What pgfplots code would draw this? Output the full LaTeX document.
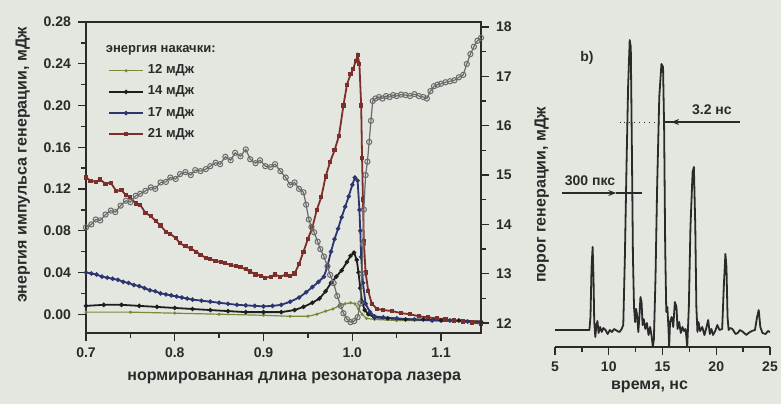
\documentclass[border=0pt]{standalone}
\usepackage{pgfplots}
\pgfplotsset{compat=1.18}
\usepackage{fontspec}
\setmainfont{Liberation Sans}
\usetikzlibrary{arrows.meta}
\definecolor{bg}{HTML}{E3E7E0}
\definecolor{ink}{HTML}{2A2A2A}
\definecolor{cgreen}{HTML}{7A8A3A}
\definecolor{cblack}{HTML}{1E1E1E}
\definecolor{cblue}{HTML}{2B3570}
\definecolor{cred}{HTML}{7B2E2A}
\definecolor{cgray}{HTML}{6A6A6A}
\pgfplotsset{
 common/.style={scale only axis,
  axis line style={ink, line width=0.9pt},
  tick style={ink, line width=0.7pt},
  major tick length=4pt, minor tick length=2.5pt, tick align=outside,
  ticklabel style={font=\fontsize{7}{8}\selectfont\bfseries, text=ink},
  label style={font=\fontsize{8}{9}\selectfont\bfseries, text=ink},
  /pgf/number format/assume math mode=true},
}
\begin{document}
\begin{tikzpicture}
\fill[bg] (0,0) rectangle (390.5pt,202pt);
\useasboundingbox (0,0) rectangle (390.5pt,202pt);

% ---------- left panel: pulse energy ----------
\begin{axis}[common, at={(43pt,35.5pt)}, anchor=south west, width=197.5pt, height=155.5pt,
 xmin=0.7, xmax=1.145, ymin=-0.018, ymax=0.28,
 xtick={0.7,0.8,0.9,1.0,1.1}, ytick={0,0.04,0.08,0.12,0.16,0.2,0.24,0.28}, minor tick num=1,
 xtick pos=bottom, ytick pos=left,
 xticklabel style={/pgf/number format/.cd, fixed, fixed zerofill, precision=1},
 yticklabel style={/pgf/number format/.cd, fixed, fixed zerofill, precision=2},
 xlabel={нормированная длина резонатора лазера},
 ylabel={энергия импульса генерации, мДж},
 xlabel style={at={(axis description cs:0.527,-0.145)}, anchor=center},
 ylabel style={at={(axis description cs:-0.16,0.54)}, anchor=center},
 legend style={draw=none, fill=none, at={(axis description cs:0.05,0.945)}, anchor=north west,
   font=\fontsize{6.5}{7.5}\selectfont\bfseries, text=ink, row sep=0.6pt, inner sep=1pt},
 legend cell align=left,
 legend image code/.code={\draw[mark repeat=2,mark phase=2,#1] plot coordinates {(0pt,0pt) (8.5pt,0pt) (17pt,0pt)};},
]
\addlegendimage{empty legend}
\addlegendentry{\hspace{-21pt}энергия накачки:}
\addplot[cgreen, line width=0.6pt, mark=*, mark size=0.45pt] coordinates {
(0.700,0.002) (0.75,0.002) (0.80,0.001) (0.85,0.000) (0.90,-0.001) (0.93,-0.002) (0.950,-0.002)
(0.960,0.000) (0.970,0.003) (0.978,0.005) (0.985,0.008) (0.992,0.010) (0.998,0.011) (1.003,0.010)
(1.007,0.005) (1.011,0.000) (1.016,-0.004) (1.025,-0.005) (1.05,-0.006) (1.10,-0.006) (1.145,-0.007)};
\addlegendentry{12 мДж}
\addplot[cblack, line width=0.9pt, mark=*, mark size=0.6pt] coordinates {
(0.700,0.008) (0.72,0.009) (0.74,0.009) (0.76,0.008) (0.78,0.007) (0.80,0.006) (0.82,0.005)
(0.84,0.004) (0.86,0.003) (0.88,0.002) (0.90,0.002) (0.92,0.002) (0.935,0.004) (0.945,0.007)
(0.955,0.011) (0.963,0.015) (0.970,0.022) (0.976,0.030) (0.982,0.036) (0.988,0.042) (0.994,0.050)
(0.998,0.056) (1.002,0.059) (1.005,0.052) (1.007,0.040) (1.009,0.025) (1.011,0.012) (1.014,0.004)
(1.018,0.000) (1.025,-0.003) (1.04,-0.004) (1.06,-0.005) (1.08,-0.005) (1.10,-0.006) (1.12,-0.006) (1.145,-0.007)};
\addlegendentry{14 мДж}
\addplot[cblue, line width=0.9pt, mark=*, mark size=0.6pt] coordinates {
(0.700,0.040) (0.706,0.039) (0.712,0.038) (0.718,0.036) (0.724,0.035) (0.730,0.034) (0.736,0.033)
(0.742,0.031) (0.748,0.030) (0.754,0.028) (0.760,0.027) (0.766,0.025) (0.772,0.023) (0.778,0.022)
(0.784,0.020) (0.790,0.019) (0.796,0.018) (0.802,0.017) (0.808,0.016) (0.814,0.015) (0.820,0.014)
(0.830,0.013) (0.840,0.012) (0.850,0.011) (0.860,0.010) (0.870,0.009) (0.880,0.0085) (0.890,0.008)
(0.900,0.0075) (0.910,0.008) (0.920,0.009) (0.930,0.012) (0.940,0.016) (0.948,0.021) (0.955,0.026)
(0.962,0.031) (0.968,0.036) (0.972,0.046) (0.976,0.060) (0.980,0.072) (0.984,0.082) (0.988,0.093)
(0.992,0.103) (0.996,0.113) (1.000,0.124) (1.003,0.131) (1.006,0.128) (1.008,0.100) (1.009,0.080)
(1.010,0.055) (1.012,0.030) (1.015,0.010) (1.020,0.002) (1.025,-0.002) (1.035,-0.003) (1.05,-0.004)
(1.07,-0.005) (1.09,-0.006) (1.11,-0.006) (1.13,-0.007) (1.145,-0.008)};
\addlegendentry{17 мДж}
\addplot[cred, line width=0.9pt, mark=square*, mark size=0.6pt] coordinates {
(0.700,0.131) (0.705,0.128) (0.711,0.127) (0.716,0.129) (0.722,0.125) (0.728,0.126) (0.734,0.118)
(0.740,0.119) (0.745,0.114) (0.750,0.112) (0.756,0.106) (0.761,0.105) (0.767,0.097) (0.773,0.094)
(0.779,0.089) (0.784,0.085) (0.790,0.079) (0.795,0.077) (0.801,0.073) (0.806,0.068) (0.812,0.065)
(0.818,0.063) (0.824,0.060) (0.829,0.057) (0.835,0.054) (0.840,0.053) (0.846,0.051) (0.852,0.050)
(0.857,0.049) (0.863,0.047) (0.869,0.046) (0.874,0.045) (0.880,0.043) (0.885,0.041) (0.891,0.038)
(0.897,0.037) (0.902,0.035) (0.908,0.036) (0.913,0.038) (0.919,0.036) (0.925,0.038) (0.930,0.037)
(0.935,0.039) (0.940,0.048) (0.945,0.060) (0.950,0.072) (0.955,0.083) (0.960,0.100) (0.965,0.112)
(0.970,0.132) (0.975,0.146) (0.980,0.157) (0.985,0.171) (0.990,0.200) (0.994,0.220) (0.998,0.230)
(1.001,0.235) (1.004,0.243) (1.006,0.248) (1.008,0.240) (1.010,0.200) (1.011,0.150) (1.012,0.110)
(1.013,0.070) (1.015,0.040) (1.018,0.022) (1.022,0.010) (1.028,0.005) (1.035,0.004) (1.045,0.003)
(1.055,0.001) (1.065,0.000) (1.075,-0.002) (1.085,-0.003) (1.095,-0.004) (1.105,-0.005) (1.115,-0.006)
(1.125,-0.007) (1.135,-0.008) (1.145,-0.009)};
\addlegendentry{21 мДж}
\end{axis}

% ---------- left panel: threshold (right axis) ----------
\begin{axis}[common, at={(43pt,35.5pt)}, anchor=south west, width=197.5pt, height=155.5pt,
 xmin=0.7, xmax=1.145, ymin=11.8, ymax=18.1,
 axis y line*=right, axis x line=none,
 ytick={12,13,14,15,16,17,18}, minor y tick num=1,
 ylabel={порог генерации, мДж},
 ylabel style={at={(axis description cs:1.154,0.444)}, anchor=center},
]
\addplot[cgray, line width=0.6pt, mark=o, mark size=1.3pt, mark options={line width=0.5pt}] coordinates {
(0.700,13.94) (0.706,14.00) (0.711,14.10) (0.716,14.08) (0.722,14.20) (0.728,14.28) (0.733,14.25)
(0.739,14.38) (0.745,14.48) (0.750,14.45) (0.756,14.58) (0.761,14.62) (0.767,14.68) (0.773,14.75)
(0.778,14.72) (0.784,14.85) (0.790,14.86) (0.795,14.95) (0.801,14.92) (0.806,15.02) (0.812,15.06)
(0.818,15.00) (0.823,15.10) (0.829,15.08) (0.835,15.12) (0.840,15.18) (0.846,15.25) (0.851,15.22)
(0.857,15.37) (0.863,15.30) (0.868,15.45) (0.874,15.38) (0.880,15.52) (0.885,15.32) (0.891,15.24)
(0.896,15.30) (0.902,15.18) (0.908,15.16) (0.913,15.22) (0.919,15.08) (0.925,14.95) (0.930,14.80)
(0.935,14.85) (0.940,14.72) (0.945,14.65) (0.948,14.40) (0.951,14.10) (0.954,13.95) (0.957,13.84)
(0.961,13.65) (0.964,13.50) (0.968,13.35) (0.972,13.15) (0.975,12.98) (0.979,12.81) (0.983,12.55)
(0.987,12.35) (0.990,12.20) (0.994,12.08) (0.998,12.02) (1.002,12.04) (1.006,12.12) (1.009,12.40)
(1.011,13.00) (1.012,13.60) (1.013,14.30) (1.015,15.00) (1.017,15.27) (1.019,15.67) (1.021,16.10)
(1.023,16.50) (1.026,16.55) (1.030,16.58) (1.034,16.55) (1.038,16.60) (1.042,16.58) (1.046,16.62)
(1.050,16.60) (1.055,16.63) (1.060,16.62) (1.065,16.60) (1.070,16.64) (1.075,16.60) (1.080,16.58)
(1.084,16.55) (1.088,16.70) (1.092,16.80) (1.096,16.83) (1.100,16.85) (1.105,16.88) (1.110,16.90)
(1.115,16.92) (1.120,16.98) (1.125,17.03) (1.129,17.25) (1.133,17.45) (1.137,17.60) (1.141,17.72)
(1.145,17.78)};
\end{axis}

% ---------- right panel: pulse train ----------
\begin{axis}[common, at={(277.5pt,28.5pt)}, anchor=south west, width=107.5pt, height=161pt,
 xmin=5, xmax=25, ymin=0, ymax=322,
 axis x line*=bottom, hide y axis,
 xtick={5,10,15,20,25}, minor x tick num=1,
 xlabel={время, нс},
 xlabel style={at={(axis description cs:0.44,-0.124)}, anchor=center},
 clip=false,
]
\addplot[ink, line width=0.9pt, line join=round] coordinates {
(5.0,17) (6.0,17) (7.0,17) (7.8,17) (8.2,17) (8.3,30) (8.4,80) (8.5,100) (8.58,70) (8.65,25)
(8.75,10) (8.85,22) (8.95,26) (9.05,14) (9.2,20) (9.35,15) (9.5,19) (9.7,17) (9.9,13) (10.1,17)
(10.3,15) (10.5,18) (10.8,16) (11.0,15) (11.2,18) (11.35,22) (11.5,90) (11.65,180) (11.8,260)
(11.95,307) (12.05,300) (12.15,200) (12.25,90) (12.35,40) (12.45,25) (12.55,38) (12.65,30)
(12.75,15) (12.85,30) (12.95,50) (13.05,45) (13.15,22) (13.25,28) (13.4,18) (13.55,24) (13.7,12)
(13.85,20) (14.0,10) (14.1,0) (14.2,8) (14.35,70) (14.5,160) (14.7,250) (14.9,283) (15.05,280)
(15.15,220) (15.25,100) (15.35,35) (15.45,40) (15.55,20) (15.62,0) (15.7,25) (15.85,30) (16.0,20)
(16.15,45) (16.3,40) (16.4,18) (16.55,25) (16.7,14) (16.85,20) (17.0,16) (17.15,18) (17.3,0)
(17.45,40) (17.6,120) (17.8,175) (17.92,180) (18.05,120) (18.15,40) (18.25,15) (18.35,25)
(18.5,16) (18.7,20) (18.9,12) (19.05,18) (19.25,27) (19.4,13) (19.55,18) (19.7,12) (19.9,16)
(20.1,22) (20.3,17) (20.55,18) (20.7,60) (20.85,93) (20.95,80) (21.05,30) (21.15,17) (21.3,19)
(21.5,18) (21.8,13) (22.0,14) (22.2,17) (22.5,15) (22.8,12) (23.0,14) (23.3,16) (23.6,17)
(23.8,30) (23.95,37) (24.1,20) (24.3,14) (24.6,13) (24.8,16) (25.0,15)};
\node[font=\fontsize{7}{8}\selectfont\bfseries, text=ink] at (axis cs:7.98,289) {b)};
\node[font=\fontsize{7}{8}\selectfont\bfseries, text=ink] at (axis cs:19.6,237) {3.2 нс};
\draw[ink, line width=0.5pt, dotted] (axis cs:15.2,225) -- (axis cs:11.0,225);
\draw[ink, line width=0.6pt] (axis cs:22.2,225) -- (axis cs:15.2,225);
\draw[ink, line width=0.6pt, -{Stealth[length=4pt,width=3pt]}] (axis cs:22.2,225) -- (axis cs:15.8,225);
\node[font=\fontsize{7}{8}\selectfont\bfseries, text=ink] at (axis cs:8.26,166) {300 пкс};
\draw[ink, line width=0.6pt, -{Stealth[length=4pt,width=3pt]}] (axis cs:5.65,154) -- (axis cs:10.7,154);
\draw[ink, line width=0.6pt] (axis cs:10.7,154) -- (axis cs:13.1,154);
\end{axis}
\end{tikzpicture}
\end{document}
